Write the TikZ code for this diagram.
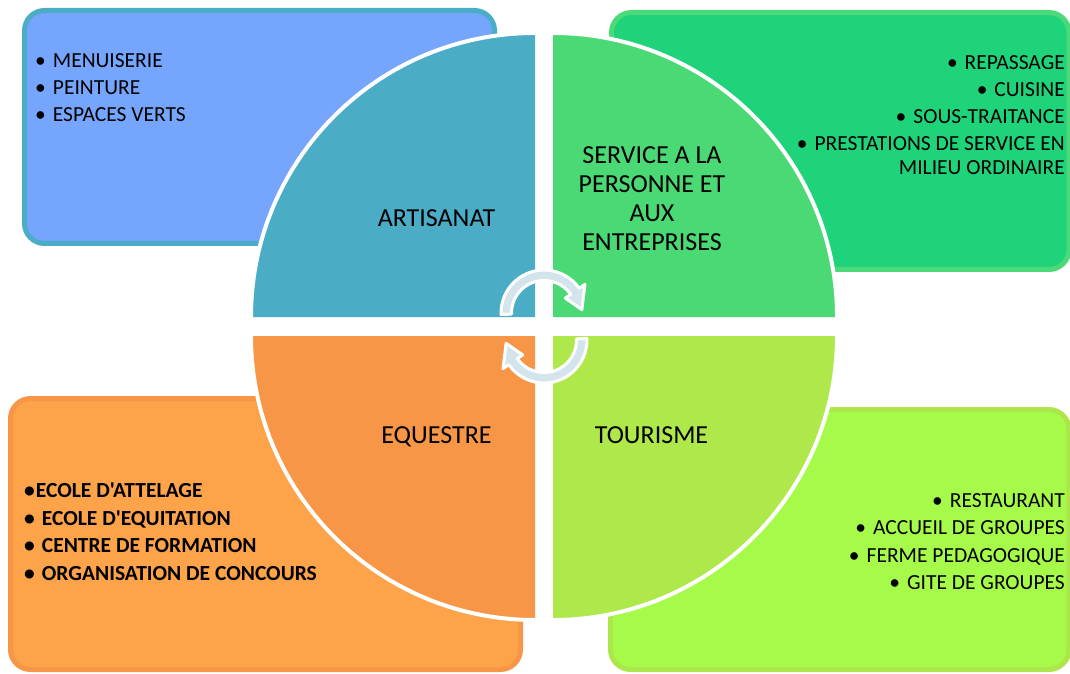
\documentclass[tikz,border=0pt]{standalone}
\usepackage{fontspec}
\setmainfont{Carlito}[Ligatures=TeXOff]
\definecolor{tlf}{HTML}{75A5FD}
\definecolor{tlb}{HTML}{4BACC6}
\definecolor{trf}{HTML}{1FD37A}
\definecolor{trb}{HTML}{4CD97A}
\definecolor{blf}{HTML}{FDA34A}
\definecolor{blb}{HTML}{F79646}
\definecolor{brf}{HTML}{A6FB4A}
\definecolor{brb}{HTML}{ADE64A}
\definecolor{tlq}{HTML}{4BACC6}
\definecolor{trq}{HTML}{4AD975}
\definecolor{blq}{HTML}{F79646}
\definecolor{brq}{HTML}{AEE84A}
\definecolor{arrowc}{HTML}{D4E4EC}
\begin{document}
\begin{tikzpicture}[x=1pt,y=1pt,
  box/.style={line width=5pt, rounded corners=20pt},
  rim/.style={draw=white, line width=4pt},
  lbl/.style={inner sep=0pt, anchor=base, font=\fontsize{26}{29}\selectfont},
  item/.style={inner sep=0pt, font=\fontsize{21.5}{24}\selectfont},
  bitem/.style={inner sep=0pt, font=\fontsize{21.5}{24}\selectfont\bfseries},
  arr/.style={draw=white, line width=3pt, fill=arrowc, line join=round}]
\useasboundingbox (0,0) rectangle (1070,673);
% side boxes
\draw[box, draw=tlb, fill=tlf] (24.5,662.5) rectangle (494.5,429.5);
\draw[box, draw=trb, fill=trf] (611.5,660.5) rectangle (1069,403.5);
\draw[box, draw=blb, fill=blf] (10.5,274.5) rectangle (520.5,3.5);
\draw[box, draw=brb, fill=brf] (610.5,263.5) rectangle (1069,3.5);
% quadrants
\fill[tlq] (535,356) -- (251,356) arc[start angle=180,end angle=90,radius=284] -- cycle;
\draw[rim] (251,356) arc[start angle=180,end angle=90,radius=284];
\fill[trq] (553,356) -- (553,640) arc[start angle=90,end angle=0,radius=284] -- cycle;
\draw[rim] (553,640) arc[start angle=90,end angle=0,radius=284];
\fill[blq] (535,337) -- (535,53) arc[start angle=270,end angle=180,radius=284] -- cycle;
\draw[rim] (535,53) arc[start angle=270,end angle=180,radius=284];
\fill[brq] (553,337) -- (837,337) arc[start angle=0,end angle=-90,radius=284] -- cycle;
\draw[rim] (837,337) arc[start angle=0,end angle=-90,radius=284];
% circular arrows
\begin{scope}[shift={(544,360)}]
\path[arr] (182:43) arc[start angle=182,end angle=35,radius=43] -- (35:50) -- (5:38) -- (35:26) -- (35:32.5) arc[start angle=35,end angle=182,radius=32.5] -- cycle;
\end{scope}
\begin{scope}[shift={(544,333)}, rotate=180]
\path[arr] (182:43) arc[start angle=182,end angle=35,radius=43] -- (35:50) -- (5:38) -- (35:26) -- (35:32.5) arc[start angle=35,end angle=182,radius=32.5] -- cycle;
\end{scope}
% quadrant labels
\node[lbl] (art) at (436.5,446.6) {ARTISANAT};
\node[inner sep=0pt, align=center, font=\fontsize{26}{29}\selectfont] (serv) at (652,474) {SERVICE A LA\\PERSONNE ET\\AUX\\ENTREPRISES};
\node[lbl] (equ) at (436.5,229.6) {EQUESTRE};
\node[lbl] (tou) at (651.5,229.6) {TOURISME};
% top-left list
\node[item, anchor=base west] (tl1) at (35,605) {\textbullet\hspace{7pt}MENUISERIE};
\node[item, anchor=base west] (tl2) at (35,578) {\textbullet\hspace{7pt}PEINTURE};
\node[item, anchor=base west] (tl3) at (35,551) {\textbullet\hspace{7pt}ESPACES VERTS};
% top-right list
\node[item, anchor=base east] (tr1) at (1065,603) {\textbullet\hspace{7pt}REPASSAGE};
\node[item, anchor=base east] (tr2) at (1065,576) {\textbullet\hspace{7pt}CUISINE};
\node[item, anchor=base east] (tr3) at (1065,549) {\textbullet\hspace{7pt}SOUS-TRAITANCE};
\node[item, anchor=base east] (tr4) at (1065,522) {\textbullet\hspace{7pt}PRESTATIONS DE SERVICE EN};
\node[item, anchor=base east] (tr5) at (1065,498) {MILIEU ORDINAIRE};
% bottom-left list
\node[bitem, anchor=base west] (bl1) at (24,176) {\textbullet\hspace{1pt}ECOLE D'ATTELAGE};
\node[bitem, anchor=base west] (bl2) at (24,148) {\textbullet\hspace{7pt}ECOLE D'EQUITATION};
\node[bitem, anchor=base west] (bl3) at (24,121) {\textbullet\hspace{7pt}CENTRE DE FORMATION};
\node[bitem, anchor=base west] (bl4) at (24,93) {\textbullet\hspace{7pt}ORGANISATION DE CONCOURS};
% bottom-right list
\node[item, anchor=base east] (br1) at (1065,166) {\textbullet\hspace{7pt}RESTAURANT};
\node[item, anchor=base east] (br2) at (1065,139) {\textbullet\hspace{7pt}ACCUEIL DE GROUPES};
\node[item, anchor=base east] (br3) at (1065,111) {\textbullet\hspace{7pt}FERME PEDAGOGIQUE};
\node[item, anchor=base east] (br4) at (1065,84) {\textbullet\hspace{7pt}GITE DE GROUPES};
\end{tikzpicture}
\end{document}
